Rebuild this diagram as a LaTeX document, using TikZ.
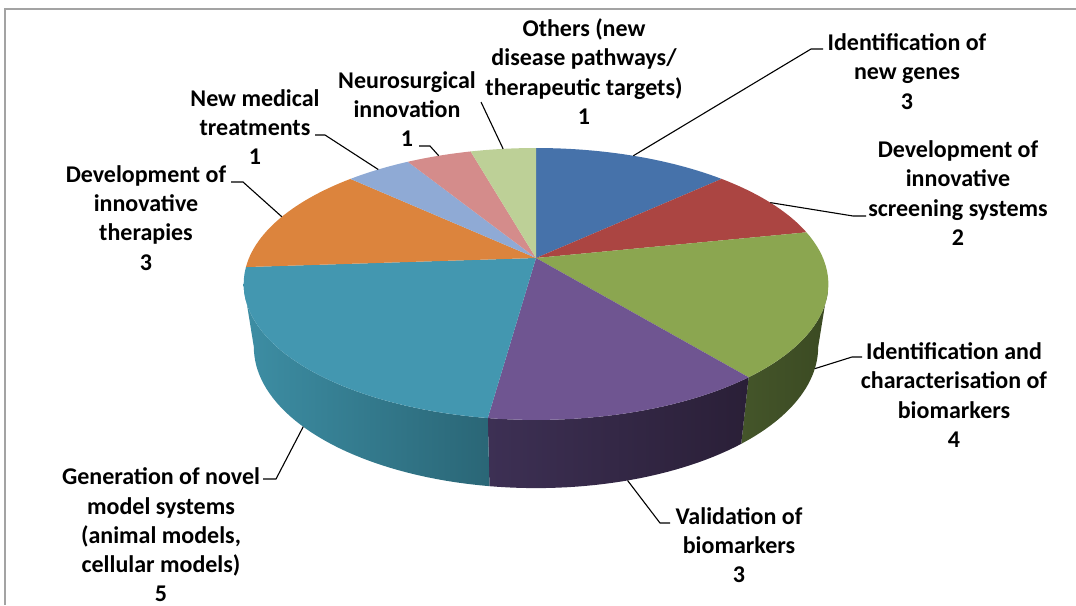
\documentclass[tikz,border=0pt]{standalone}
\usepackage{fontspec}
\setmainfont{Carlito}

\definecolor{pieblue}{HTML}{4672AA}
\definecolor{piered}{HTML}{AB4542}
\definecolor{piegreen}{HTML}{8BA650}
\definecolor{piepurple}{HTML}{6F5591}
\definecolor{pieteal}{HTML}{4397B0}
\definecolor{pieorange}{HTML}{DC843D}
\definecolor{pielightblue}{HTML}{8FAAD5}
\definecolor{piepink}{HTML}{D48C8B}
\definecolor{pielightgreen}{HTML}{BDD097}
\definecolor{sidegreenA}{HTML}{3B4A22}
\definecolor{sidegreenB}{HTML}{44552A}
\definecolor{sidepurpleA}{HTML}{3D3054}
\definecolor{sidepurpleB}{HTML}{2A1F37}
\definecolor{sidetealA}{HTML}{3D8EA4}
\definecolor{sidetealB}{HTML}{2A6676}
\definecolor{framegray}{HTML}{A3A3A3}

% rim of the top face (p) and of the bottom face (b), angle in degrees
\tikzset{declare function={
  px(\a)=536+287*cos(\a)/(1+0.191*sin(\a));
  py(\a)=258-131*sin(\a)/(1+0.191*sin(\a));
  bx(\a)=536+277*cos(\a)/(1+0.191*sin(\a));
  by(\a)=320-136*sin(\a)/(1+0.191*sin(\a));
}}

\begin{document}
\begin{tikzpicture}[x=1pt,y=-1pt]
        \useasboundingbox (0,0) rectangle (1076,605);
        \draw[framegray, line width=1.8pt] (5,605) -- (5,9) -- (1076,9);

        % side of the pie
        \shade[left color=sidegreenB, right color=sidegreenA] plot[domain=-11.01:-50.87, samples=30] ({px(\x)},{py(\x)})
                -- plot[domain=-50.87:-11.01, samples=30] ({bx(\x)},{by(\x)}) -- cycle;
        \shade[left color=sidepurpleA, right color=sidepurpleB] plot[domain=-50.87:-97.83, samples=30] ({px(\x)},{py(\x)})
                -- plot[domain=-97.83:-50.87, samples=30] ({bx(\x)},{by(\x)}) -- cycle;
        \shade[left color=sidetealA, right color=sidetealB] plot[domain=-97.83:-168.99, samples=40] ({px(\x)},{py(\x)})
                -- plot[domain=-168.99:-97.83, samples=40] ({bx(\x)},{by(\x)}) -- cycle;

        % top of the pie
        \foreach \s/\e/\c in {90/43.04/pieblue, 43.04/11.74/piered, 11.74/-50.87/piegreen,
                -50.87/-97.83/piepurple, -97.83/-176.09/pieteal, -176.09/-223.04/pieorange,
                -223.04/-238.70/pielightblue, -238.70/-254.35/piepink, -254.35/-270/pielightgreen}
                \fill[\c] (536,258) -- plot[domain=\s:\e, samples=30] ({px(\x)},{py(\x)}) -- cycle;

        \begin{scope}[every node/.style={font=\bfseries\fontsize{24}{29.3}\selectfont, align=center, inner sep=0pt}]
                \node (others) at (584,71.5) {Others (new\\disease pathways/\\therapeutic targets)\\1};
                \node (genes) at (907,71.5) {Identification of\\new genes\\3};
                \node (screening) at (958,193) {Development of\\innovative\\screening systems\\2};
                \node (biomarkers) at (954,395) {Identification and\\characterisation of\\biomarkers\\4};
                \node (validation) at (739,545) {Validation of\\biomarkers\\3};
                \node (models) at (161,535) {Generation of novel\\model systems\\(animal models,\\cellular models)\\5};
                \node (therapies) at (146,218) {Development of\\innovative\\therapies\\3};
                \node (medical) at (255,127) {New medical\\treatments\\1};
                \node (neuro) at (407,109) {Neurosurgical\\innovation\\1};
        \end{scope}

        \coordinate (othersTip) at ({px(97.83)},{py(97.83)});
        \coordinate (neuroTip) at ({px(113.48)},{py(113.48)});
        \coordinate (medicalTip) at ({px(129.13)},{py(129.13)});
        \coordinate (therapiesTip) at ({px(160.43)},{py(160.43)});
        \coordinate (genesTip) at ({px(66.52)},{py(66.52)});
        \coordinate (screeningTip) at ({px(27.39)},{py(27.39)});
        \coordinate (biomarkersTip) at ({bx(-19.57)},{by(-19.57)});
        \coordinate (validationTip) at ({bx(-74.35)},{by(-74.35)});
        \coordinate (modelsTip) at ({bx(-136.96)},{by(-136.96)});

        \coordinate (othersEnd) at (481,102);
        \coordinate (neuroEnd) at (419,146);
        \coordinate (medicalEnd) at (315,135);
        \coordinate (therapiesEnd) at (231,182);
        \coordinate (genesEnd) at (823,49);
        \coordinate (screeningEnd) at (866,216);
        \coordinate (biomarkersEnd) at (862,357);
        \coordinate (validationEnd) at (670,523);
        \coordinate (modelsEnd) at (263,479);

        \begin{scope}[every path/.style={line width=1.1pt}]
                \draw (othersTip) -- (othersEnd);
                \draw (neuroTip) -- ([xshift=11]neuroEnd) -- (neuroEnd);
                \draw (medicalTip) -- ([xshift=10]medicalEnd) -- (medicalEnd);
                \draw (therapiesTip) -- ([xshift=12]therapiesEnd) -- (therapiesEnd);
                \draw (genesTip) -- ([xshift=-12]genesEnd) -- (genesEnd);
                \draw (screeningTip) -- ([xshift=-13]screeningEnd) -- (screeningEnd);
                \draw (biomarkersTip) -- ([xshift=-10]biomarkersEnd) -- (biomarkersEnd);
                \draw (validationTip) -- ([xshift=-10]validationEnd) -- (validationEnd);
                \draw (modelsTip) -- ([xshift=13]modelsEnd) -- (modelsEnd);
        \end{scope}
\end{tikzpicture}
\end{document}
